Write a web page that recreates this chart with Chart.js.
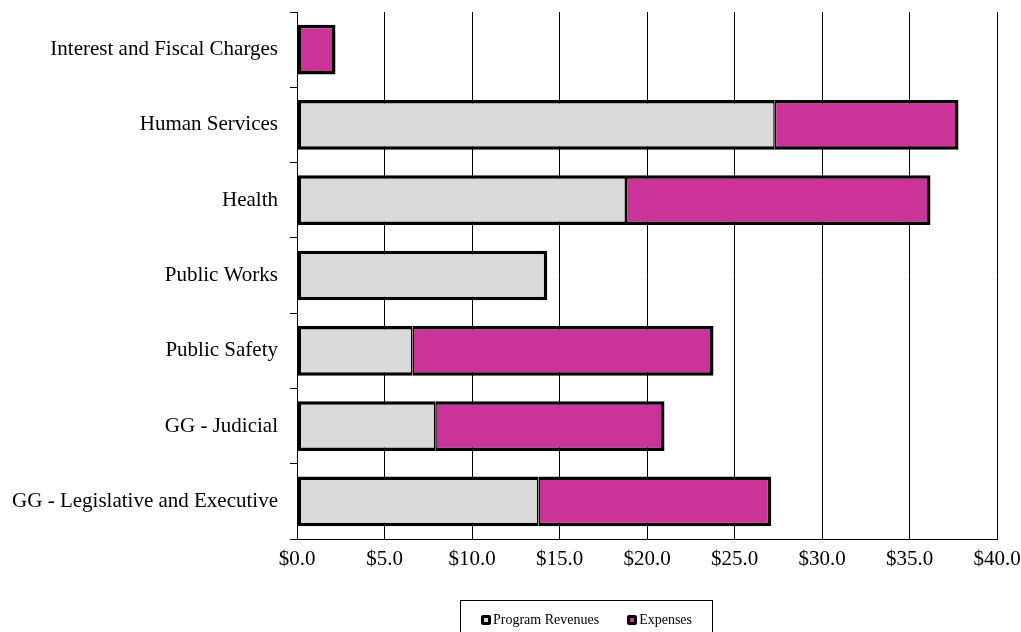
<!DOCTYPE html>
<html>
<head>
<meta charset="utf-8">
<script src="https://cdn.jsdelivr.net/npm/chart.js@4/dist/chart.umd.min.js"></script>
<style>
  body { margin: 0; background: #fff; }
  #wrap { position: relative; width: 1021px; height: 632px; overflow: hidden; }
  #legend {
    position: absolute; left: 460px; top: 600px; width: 253px; height: 40px;
    border: 1px solid #000; box-sizing: border-box;
    font: 14px "Liberation Serif", "Times New Roman", serif; color: #000;
    display: flex; justify-content: center; gap: 28px; padding-top: 11px;
  }
  #legend span.item { display: inline-flex; align-items: center; height: 16px; }
  #legend span.mark {
    display: inline-block; width: 4px; height: 4px; border: 3px solid #000;
    border-radius: 2px; margin-right: 2px;
  }
</style>
</head>
<body>
<div id="wrap">
  <canvas id="chart" width="1021" height="632"></canvas>
  <div id="legend"></div>
</div>
<script>
// Program revenues vs expenses by function (millions), stacked horizontal bars.
const categories = [
  'Interest and Fiscal Charges',
  'Human Services',
  'Health',
  'Public Works',
  'Public Safety',
  'GG - Judicial',
  'GG - Legislative and Executive',
];
const programRevenues = [0, 27.3, 18.8, 14.3, 6.6, 7.9, 13.8];
const expenses = [2.2, 10.5, 17.4, 0, 17.2, 13.1, 13.3];
const seriesLabels = ['Program Revenues', 'Expenses'];
const seriesColors = ['#D9D9D9', '#CC3399'];

const FONT = '"Liberation Serif", "Times New Roman", serif';
const OUTER = 3.5;
const INNER = 1.5;

// keep the plot box fixed: no extra room reserved for overhanging labels
function noScalePadding(scale) {
  scale.paddingLeft = 0;
  scale.paddingRight = 0;
  scale.paddingTop = 0;
  scale.paddingBottom = 0;
}

const canvas = document.getElementById('chart');
const chart = new Chart(canvas.getContext('2d'), {
  type: 'bar',
  data: {
    labels: categories,
    datasets: [
      {
        label: seriesLabels[0],
        data: programRevenues,
        backgroundColor: seriesColors[0],
        borderColor: '#000',
        borderSkipped: false,
        borderWidth: (ctx) => ({
          top: OUTER, bottom: OUTER, left: OUTER,
          right: expenses[ctx.dataIndex] ? INNER : OUTER,
        }),
      },
      {
        label: seriesLabels[1],
        data: expenses,
        backgroundColor: seriesColors[1],
        borderColor: '#000',
        borderSkipped: false,
        borderWidth: (ctx) => ({
          top: OUTER, bottom: OUTER, right: OUTER,
          left: programRevenues[ctx.dataIndex] ? INNER : OUTER,
        }),
      },
    ],
  },
  options: {
    indexAxis: 'y',
    responsive: false,
    animation: false,
    layout: { padding: { top: 12, right: 24, left: 0, bottom: 0 } },
    datasets: { bar: { categoryPercentage: 1, barPercentage: 0.66 } },
    scales: {
      x: {
        stacked: true,
        min: 0,
        max: 40,
        afterFit: (scale) => { scale.height = 93; noScalePadding(scale); },
        ticks: {
          stepSize: 5,
          padding: 8,
          color: '#000',
          font: { family: FONT, size: 21 },
          callback: (v) => `$${Number(v).toFixed(1)}`,
        },
        grid: { color: '#000', lineWidth: 1, drawTicks: false },
        border: { color: '#000', width: 1 },
      },
      y: {
        stacked: true,
        afterFit: (scale) => { scale.width = 297; noScalePadding(scale); },
        ticks: { padding: 12, color: '#000', font: { family: FONT, size: 21 } },
        grid: { offset: true, drawOnChartArea: false, tickLength: 7, color: '#000' },
        border: { color: '#000', width: 1 },
      },
    },
    plugins: {
      legend: { display: false },
      tooltip: { enabled: false },
    },
  },
});

// Framed legend drawn as real text under the axis
const legendEl = document.getElementById('legend');
chart.data.datasets.forEach((ds) => {
  const item = document.createElement('span');
  item.className = 'item';
  const mark = document.createElement('span');
  mark.className = 'mark';
  mark.style.background = ds.backgroundColor;
  item.appendChild(mark);
  item.appendChild(document.createTextNode(ds.label));
  legendEl.appendChild(item);
});
</script>
</body>
</html>
